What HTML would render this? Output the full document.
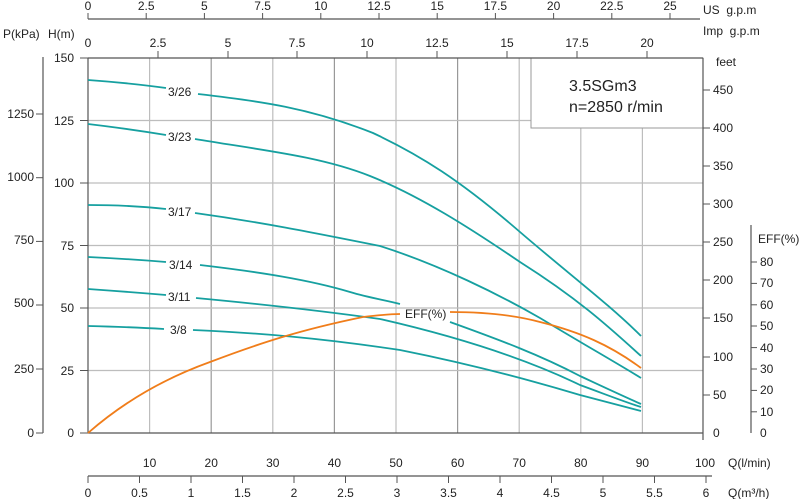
<!DOCTYPE html>
<html><head><meta charset="utf-8"><style>
html,body{margin:0;padding:0;background:#fff;}
svg{display:block;font-family:"Liberation Sans",Arial,sans-serif;}
</style></head><body>
<svg width="800" height="499" viewBox="0 0 800 499" xmlns="http://www.w3.org/2000/svg">
<rect width="800" height="499" fill="#fff"/>
<g stroke="#bdbdbd" stroke-width="1.2">
<line x1="149.6" y1="58" x2="149.6" y2="433"/><line x1="211.2" y1="58" x2="211.2" y2="433" stroke="#999"/>
<line x1="272.8" y1="58" x2="272.8" y2="433"/><line x1="334.4" y1="58" x2="334.4" y2="433" stroke="#999"/>
<line x1="396" y1="58" x2="396" y2="433"/><line x1="457.6" y1="58" x2="457.6" y2="433" stroke="#999"/>
<line x1="519.2" y1="58" x2="519.2" y2="433"/><line x1="580.8" y1="58" x2="580.8" y2="433"/>
<line x1="642.4" y1="58" x2="642.4" y2="433"/>
<line x1="88" y1="120.5" x2="703" y2="120.5"/><line x1="88" y1="183" x2="703" y2="183"/>
<line x1="88" y1="245.5" x2="703" y2="245.5"/><line x1="88" y1="308" x2="703" y2="308"/>
<line x1="88" y1="370.5" x2="703" y2="370.5"/>
</g>
<rect x="531" y="58" width="172" height="70" fill="#fff" stroke="#999" stroke-width="1"/>
<text x="569" y="91" font-size="16" fill="#222">3.5SGm3</text>
<text x="569" y="112" font-size="16" fill="#222">n=2850 r/min</text>
<g stroke="#555" stroke-width="1.2" fill="none">
<line x1="88" y1="58" x2="703" y2="58"/>
<line x1="88" y1="58" x2="88" y2="433"/>
<line x1="88" y1="433" x2="703" y2="433"/>
<line x1="703" y1="58" x2="703" y2="440"/>
</g>
<g font-size="12" fill="#222" text-anchor="end">
<text x="74" y="62">150</text><text x="74" y="125">125</text><text x="74" y="187">100</text>
<text x="74" y="250">75</text><text x="74" y="312">50</text><text x="74" y="375">25</text><text x="74" y="437">0</text>
</g>
<g stroke="#555" stroke-width="1"><line x1="80" y1="58" x2="88" y2="58"/><line x1="80" y1="120.5" x2="88" y2="120.5"/><line x1="80" y1="183" x2="88" y2="183"/><line x1="80" y1="245.5" x2="88" y2="245.5"/><line x1="80" y1="308" x2="88" y2="308"/><line x1="80" y1="370.5" x2="88" y2="370.5"/><line x1="80" y1="433" x2="88" y2="433"/></g>
<text x="3" y="38" font-size="12" fill="#222">P(kPa)</text>
<text x="48" y="38" font-size="12" fill="#222">H(m)</text>
<line x1="43" y1="57" x2="43" y2="433" stroke="#555" stroke-width="1.2"/>
<g font-size="12" fill="#222" text-anchor="end">
<text x="34" y="118">1250</text><text x="34" y="181">1000</text><text x="34" y="244">750</text>
<text x="34" y="307">500</text><text x="34" y="373">250</text><text x="34" y="437">0</text>
</g>
<g stroke="#555"><line x1="36" y1="114" x2="43" y2="114"/><line x1="36" y1="177.7" x2="43" y2="177.7"/><line x1="36" y1="241.4" x2="43" y2="241.4"/><line x1="36" y1="305" x2="43" y2="305"/><line x1="36" y1="369" x2="43" y2="369"/><line x1="36" y1="433" x2="43" y2="433"/></g>
<text x="716" y="66" font-size="12" fill="#222">feet</text>
<g font-size="12" fill="#222">
<text x="713" y="94">450</text><text x="713" y="132">400</text><text x="713" y="170">350</text>
<text x="713" y="208">300</text><text x="713" y="246">250</text><text x="713" y="284">200</text>
<text x="713" y="322">150</text><text x="713" y="361">100</text><text x="713" y="399">50</text><text x="713" y="437">0</text>
</g>
<g stroke="#555"><line x1="703" y1="90" x2="710" y2="90"/><line x1="703" y1="128" x2="710" y2="128"/><line x1="703" y1="166" x2="710" y2="166"/><line x1="703" y1="204" x2="710" y2="204"/><line x1="703" y1="242" x2="710" y2="242"/><line x1="703" y1="280" x2="710" y2="280"/><line x1="703" y1="318" x2="710" y2="318"/><line x1="703" y1="357" x2="710" y2="357"/><line x1="703" y1="395" x2="710" y2="395"/></g>
<line x1="751" y1="225" x2="751" y2="433" stroke="#555" stroke-width="1.2"/>
<text x="758" y="243" font-size="12" fill="#222">EFF(%)</text>
<g font-size="12" fill="#222">
<text x="760" y="266">80</text><text x="760" y="287">70</text><text x="760" y="309">60</text>
<text x="760" y="330">50</text><text x="760" y="352">40</text><text x="760" y="373">30</text>
<text x="760" y="394">20</text><text x="760" y="416">10</text><text x="760" y="437">0</text>
</g>
<g stroke="#555"><line x1="751" y1="262" x2="757" y2="262"/><line x1="751" y1="283.4" x2="757" y2="283.4"/><line x1="751" y1="304.8" x2="757" y2="304.8"/><line x1="751" y1="326" x2="757" y2="326"/><line x1="751" y1="347.6" x2="757" y2="347.6"/><line x1="751" y1="369" x2="757" y2="369"/><line x1="751" y1="390.4" x2="757" y2="390.4"/><line x1="751" y1="411.8" x2="757" y2="411.8"/></g>
<line x1="88" y1="19" x2="700" y2="19" stroke="#555" stroke-width="1.2"/>
<g font-size="12" fill="#222" text-anchor="middle">
<text x="88" y="10">0</text><text x="146.2" y="10">2.5</text><text x="204.4" y="10">5</text><text x="262.6" y="10">7.5</text>
<text x="320.8" y="10">10</text><text x="379" y="10">12.5</text><text x="437.2" y="10">15</text><text x="495.4" y="10">17.5</text>
<text x="553.6" y="10">20</text><text x="611.8" y="10">22.5</text><text x="670" y="10">25</text>
</g>
<g stroke="#555"><line x1="88" y1="13" x2="88" y2="19"/><line x1="146.2" y1="13" x2="146.2" y2="19"/><line x1="204.4" y1="13" x2="204.4" y2="19"/><line x1="262.6" y1="13" x2="262.6" y2="19"/><line x1="320.8" y1="13" x2="320.8" y2="19"/><line x1="379" y1="13" x2="379" y2="19"/><line x1="437.2" y1="13" x2="437.2" y2="19"/><line x1="495.4" y1="13" x2="495.4" y2="19"/><line x1="553.6" y1="13" x2="553.6" y2="19"/><line x1="611.8" y1="13" x2="611.8" y2="19"/><line x1="670" y1="13" x2="670" y2="19"/></g>
<text x="703" y="14" font-size="12" fill="#222">US&#160;&#160;g.p.m</text>
<text x="703" y="35" font-size="12" fill="#222">Imp&#160;&#160;g.p.m</text>
<g font-size="12" fill="#222" text-anchor="middle">
<text x="88" y="47">0</text><text x="158" y="47">2.5</text><text x="228" y="47">5</text><text x="297" y="47">7.5</text>
<text x="367" y="47">10</text><text x="437" y="47">12.5</text><text x="507" y="47">15</text><text x="577" y="47">17.5</text><text x="647" y="47">20</text>
</g>
<g stroke="#555"><line x1="158" y1="51" x2="158" y2="58"/><line x1="228" y1="51" x2="228" y2="58"/><line x1="297" y1="51" x2="297" y2="58"/><line x1="367" y1="51" x2="367" y2="58"/><line x1="437" y1="51" x2="437" y2="58"/><line x1="507" y1="51" x2="507" y2="58"/><line x1="577" y1="51" x2="577" y2="58"/><line x1="647" y1="51" x2="647" y2="58"/></g>
<g font-size="12" fill="#222" text-anchor="middle">
<text x="149.6" y="467">10</text><text x="211.2" y="467">20</text><text x="272.8" y="467">30</text><text x="334.4" y="467">40</text>
<text x="396" y="467">50</text><text x="457.6" y="467">60</text><text x="519.2" y="467">70</text><text x="580.8" y="467">80</text>
<text x="642.4" y="467">90</text><text x="705" y="467">100</text>
</g>
<text x="728" y="467" font-size="12" fill="#222">Q(l/min)</text>
<line x1="88" y1="476" x2="712" y2="476" stroke="#555" stroke-width="1.2"/>
<g stroke="#555"><line x1="88" y1="476" x2="88" y2="483"/><line x1="139.5" y1="476" x2="139.5" y2="483"/><line x1="191" y1="476" x2="191" y2="483"/><line x1="242.5" y1="476" x2="242.5" y2="483"/><line x1="294" y1="476" x2="294" y2="483"/><line x1="345.5" y1="476" x2="345.5" y2="483"/><line x1="397" y1="476" x2="397" y2="483"/><line x1="448.5" y1="476" x2="448.5" y2="483"/><line x1="500" y1="476" x2="500" y2="483"/><line x1="551.5" y1="476" x2="551.5" y2="483"/><line x1="603" y1="476" x2="603" y2="483"/><line x1="654.5" y1="476" x2="654.5" y2="483"/><line x1="706" y1="476" x2="706" y2="483"/></g>
<g font-size="12" fill="#222" text-anchor="middle">
<text x="88" y="497">0</text><text x="139.5" y="497">0.5</text><text x="191" y="497">1</text><text x="242.5" y="497">1.5</text>
<text x="294" y="497">2</text><text x="345.5" y="497">2.5</text><text x="397" y="497">3</text><text x="448.5" y="497">3.5</text>
<text x="500" y="497">4</text><text x="551.5" y="497">4.5</text><text x="603" y="497">5</text><text x="654.5" y="497">5.5</text><text x="706" y="497">6</text>
</g>
<text x="728" y="497" font-size="12" fill="#222">Q(m³/h)</text>
<g fill="none" stroke="#16a0a0" stroke-width="1.8">
<path d="M88,80 Q130,83 166,88"/>
<path d="M198,94 C260,101 310,108 373,133 C420,155 460,180 520,232 C570,275 610,305 641,336"/>
<path d="M88,124 Q130,129 166,135"/>
<path d="M195,139 C260,150 320,156 370,176 C420,196 470,228 520,262 C580,300 610,328 641,356"/>
<path d="M88,205 Q130,205 166,209"/>
<path d="M195,213 C260,222 310,232 380,246 C440,265 500,295 540,318 C590,348 615,362 641,378"/>
<path d="M88,257 Q130,259 166,262"/>
<path d="M200,265 C260,272 310,280 350,292 C370,298 385,300 400,304"/>
<path d="M450,322 C500,340 540,355 580,376 C610,390 625,397 641,404"/>
<path d="M88,289 Q130,292 166,295"/>
<path d="M196,298 C260,304 330,312 380,319 C450,335 520,356 580,385 C610,396 625,402 641,407"/>
<path d="M88,326 Q130,327 164,329"/>
<path d="M193,330 C260,333 320,338 400,350 C460,362 520,377 580,395 C610,403 625,407 641,411"/>
</g>
<path d="M88,433 C120,405 160,380 210,362 C260,343 300,330 363,317 C380,315 392,314 400,314" fill="none" stroke="#f07d1a" stroke-width="1.8"/>
<path d="M450,312 C490,312 518,316 540,322 C580,332 610,345 641,368" fill="none" stroke="#f07d1a" stroke-width="1.8"/>
<g font-size="12" fill="#222">
<text x="168" y="96">3/26</text><text x="168" y="141">3/23</text><text x="168" y="216">3/17</text>
<text x="169" y="269">3/14</text><text x="168" y="301">3/11</text><text x="170" y="334">3/8</text>
<text x="405" y="318">EFF(%)</text>
</g>
</svg>
</body></html>
